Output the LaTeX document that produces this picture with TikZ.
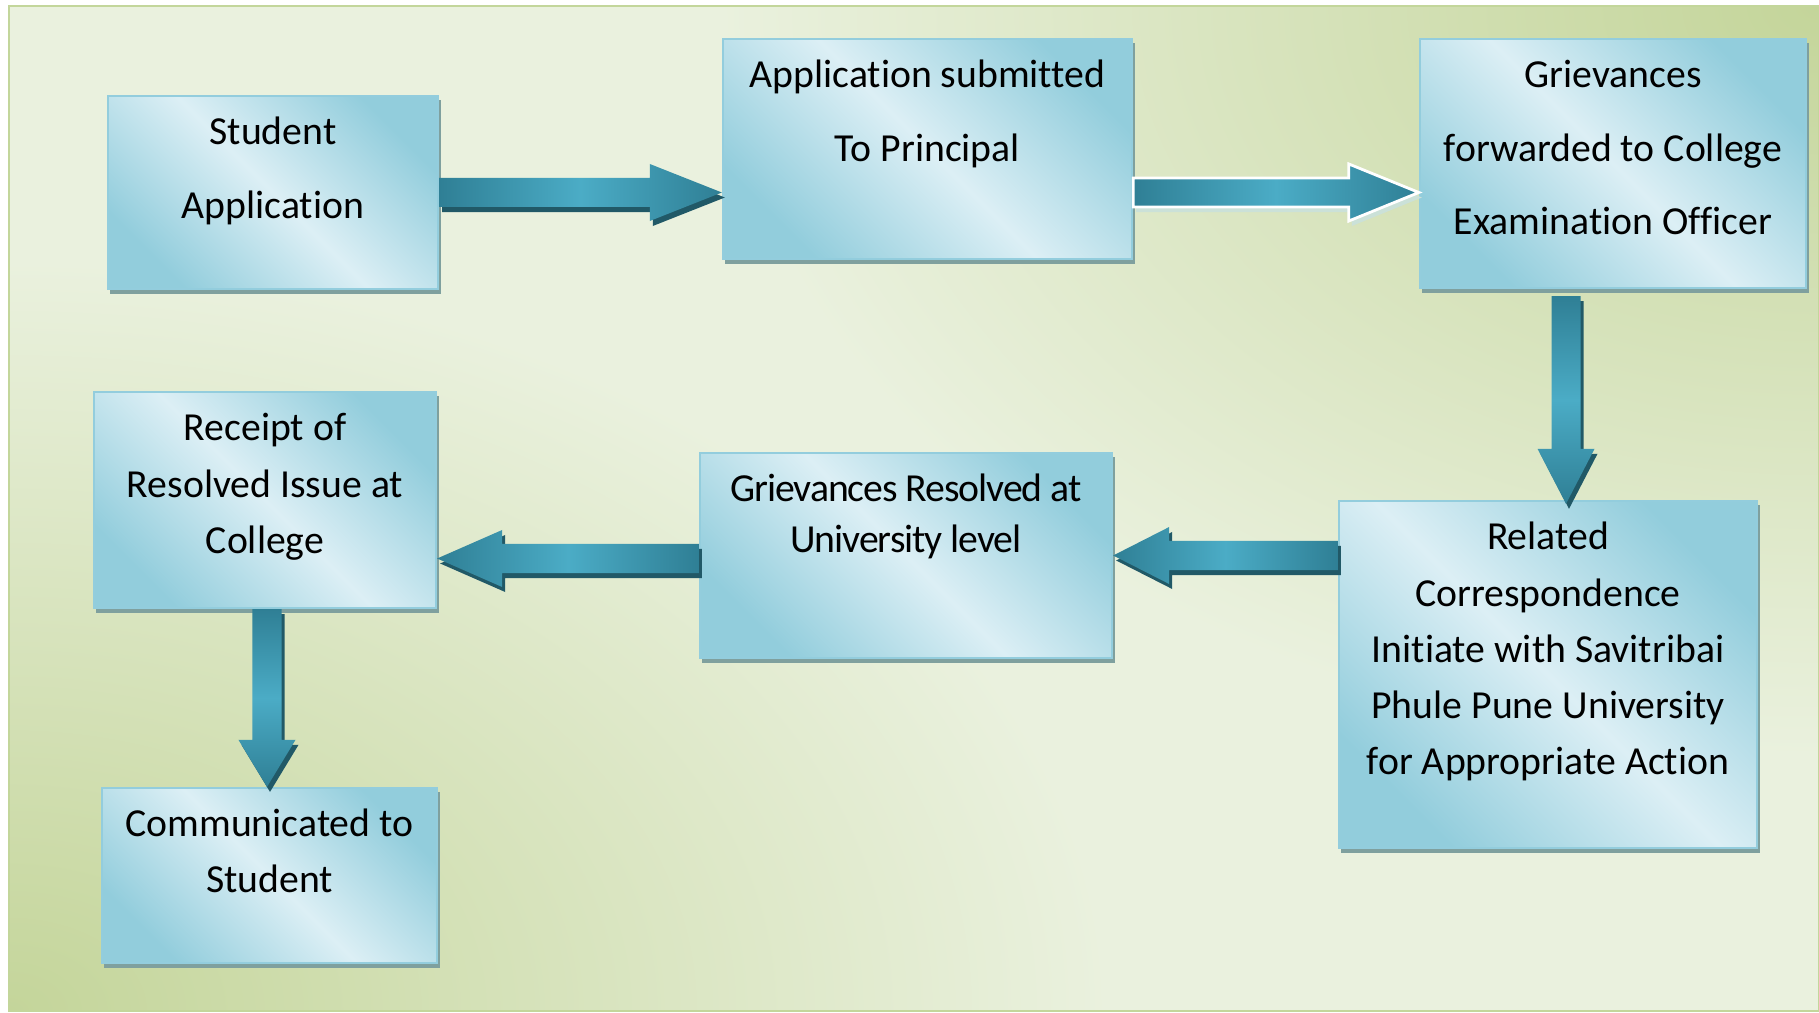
\documentclass[tikz,border=0pt]{standalone}
\usepackage{fontspec}
\setmainfont{Carlito}[Ligatures={NoCommon}]
\usetikzlibrary{calc, shadows}
\definecolor{bgbase}{HTML}{EAF1DE}
\definecolor{bggreen}{HTML}{C4D59A}
\definecolor{bgedge}{HTML}{C3D69B}
\definecolor{boxlight}{HTML}{DCEFF5}
\definecolor{boxdark}{HTML}{92CDDC}
\definecolor{boxedge}{HTML}{93CDDD}
\definecolor{boxshadow}{HTML}{7FA09E}
\definecolor{arrend}{HTML}{2F7F95}
\definecolor{arrmid}{HTML}{4BACC6}
\definecolor{arrshadow}{HTML}{215967}
\definecolor{arrpale}{HTML}{CBE1D8}

% text of a box: width, height, line distance, lines
\newcommand\btext[4]{\parbox[c][#2][t]{#1}{\centering
  \fontsize{11.3pt}{#3}\selectfont\rule{0pt}{0.49cm}#4}}
% block arrow: style, from, to, head length
\newcommand\blockarrow[4]{%
  \coordinate (bh) at ($(#3)!#4!(#2)$);
  \path[#1] ($(#2)!0.145cm!90:(#3)$) -- ($(bh)!0.145cm!90:(#3)$)
    -- ($(bh)!0.285cm!90:(#3)$) -- (#3) -- ($(bh)!0.285cm!-90:(#3)$)
    -- ($(bh)!0.145cm!-90:(#3)$) -- ($(#2)!0.145cm!-90:(#3)$) -- cycle;}

\tikzset{
  box/.style={draw=boxedge, line width=0.6pt, inner sep=0pt,
    top color=boxdark, bottom color=boxdark, middle color=boxlight,
    shading angle=-45,
    drop shadow={shadow xshift=0.025cm, shadow yshift=-0.045cm,
      fill=boxshadow, opacity=1}},
  hshade/.style={left color=arrend, right color=arrend, middle color=arrmid},
  vshade/.style={top color=arrend, bottom color=arrend, middle color=arrmid},
  darkshadow/.style={drop shadow={shadow xshift=0.03cm,
      shadow yshift=-0.05cm, fill=arrshadow, opacity=1}},
  paleshadow/.style={drop shadow={shadow xshift=0.03cm,
      shadow yshift=-0.05cm, fill=arrpale, opacity=1}},
}

\begin{document}
\begin{tikzpicture}[x=0.01cm, y=0.01cm]
  \useasboundingbox (0,0) rectangle (1819,1012);

  % background
  \fill[bgbase] (9,1) rectangle (1819,1006);
  \begin{scope}
    \clip (9,1006) -- (1819,1006) -- (1819,1) -- cycle;
    \shade[inner color=bggreen, outer color=bgbase] (1819,1006) ellipse (1100 and 750);
  \end{scope}
  \begin{scope}
    \clip (9,1006) -- (9,1) -- (1819,1) -- cycle;
    \shade[inner color=bggreen, outer color=bgbase] (9,1) ellipse (1100 and 750);
  \end{scope}
  \draw[bgedge, line width=0.8pt] (9,1) rectangle (1819,1006);

  % boxes
  \node[box] (stu) at (273,819.5) {\btext{3.30cm}{1.93cm}{20.8pt}{Student\\Application}};
  \node[box] (prin) at (927.5,863) {\btext{4.09cm}{2.20cm}{21pt}{Application submitted\\To Principal}};
  \node[box] (exam) at (1613,848.5) {\btext{3.86cm}{2.49cm}{20.8pt}{Grievances\\forwarded to College\\Examination Officer}};
  \node[box] (corr) at (1548,337.5) {\btext{4.18cm}{3.47cm}{16pt}{Related\\Correspondence\\Initiate with Savitribai\\Phule Pune University\\for Appropriate Action}};
  \node[box] (univ) at (906,456.5) {\btext{4.12cm}{2.05cm}{14.5pt}{\addfontfeature{LetterSpace=-2.7}Grievances Resolved at\\University level}};
  \node[box] (rec) at (265,512) {\btext{3.42cm}{2.16cm}{16pt}{Receipt of\\Resolved Issue at\\College}};
  \node[box] (comm) at (269.5,136.5) {\btext{3.35cm}{1.75cm}{15.9pt}{Communicated to\\Student}};

  % arrows
  \coordinate (a1s) at (stu.east);
  \coordinate (a1t) at (stu.east -| prin.west);
  \blockarrow{hshade, darkshadow}{a1s}{a1t}{0.72cm}
  \coordinate (a2s) at (stu.east -| prin.east);
  \coordinate (a2t) at (stu.east -| exam.west);
  \blockarrow{hshade, paleshadow, draw=white, line width=0.8pt}{a2s}{a2t}{0.70cm}
  \coordinate (a3s) at ($(exam.south)+(-47,-7)$);
  \coordinate (a3t) at ($(a3s |- corr.north)+(0,-4)$);
  \blockarrow{vshade, darkshadow}{a3s}{a3t}{0.55cm}
  \coordinate (a4s) at (univ.east -| corr.west);
  \coordinate (a4t) at (univ.east);
  \blockarrow{hshade, darkshadow}{a4s}{a4t}{0.56cm}
  \coordinate (a5s) at ($(univ.west)+(0,-3)$);
  \coordinate (a5t) at (a5s -| rec.east);
  \blockarrow{hshade, darkshadow}{a5s}{a5t}{0.65cm}
  \coordinate (a6s) at ($(rec.south)+(2,0)$);
  \coordinate (a6t) at (a6s |- comm.north);
  \blockarrow{vshade, darkshadow}{a6s}{a6t}{0.47cm}
\end{tikzpicture}
\end{document}
